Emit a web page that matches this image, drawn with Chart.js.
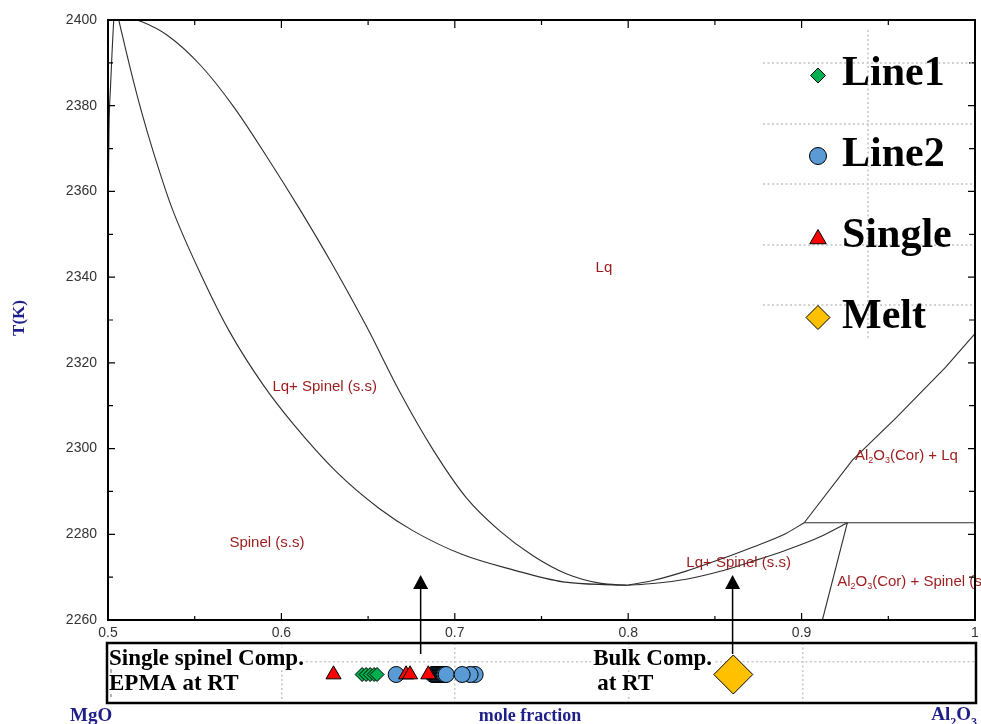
<!DOCTYPE html>
<html>
<head>
<meta charset="utf-8">
<script src="https://cdn.jsdelivr.net/npm/chart.js@4.4.0/dist/chart.umd.min.js"></script>
<style>
html, body { margin: 0; padding: 0; background: #fff; }
#wrap { position: relative; width: 981px; height: 724px; overflow: hidden; }
#wrap canvas { position: absolute; left: 0; top: 0; }
</style>
</head>
<body>
<div id="wrap">
  <canvas id="strip" width="981" height="724"></canvas>
  <canvas id="phase" width="981" height="724"></canvas>
</div>
<script>
// axis ticks
const xTicks = [0.5, 0.6, 0.7, 0.8, 0.9, 1];
const yTicks = [2260, 2280, 2300, 2320, 2340, 2360, 2380, 2400];
const stripGridX = [0.6, 0.7, 0.8, 0.9];

// phase boundaries  [mole fraction Al2O3, T(K)]
const solidusMgO = [[0.5002, 2360], [0.5006, 2375], [0.5014, 2384], [0.5024, 2393], [0.5033, 2400]];
const solidusLeft = [[0.5062, 2400], [0.5129, 2388.6], [0.5196, 2378.2], [0.5263, 2369.0], [0.5369, 2356.1],
  [0.5551, 2339.3], [0.5705, 2327.0], [0.5896, 2314.8], [0.6069, 2305.7], [0.6319, 2294.5], [0.6568, 2285.9],
  [0.6760, 2280.8], [0.7048, 2275.2], [0.7336, 2271.7], [0.7624, 2268.9], [0.7911, 2268.2], [0.7996, 2268.1]];
const liquidusLeft = [[0.5100, 2400.7], [0.5196, 2399.6], [0.5340, 2396.5], [0.5532, 2389.5], [0.5724, 2379.8],
  [0.5916, 2368.1], [0.6108, 2355.7], [0.6299, 2342.6], [0.6492, 2328.4], [0.6683, 2313.2], [0.6875, 2299.7],
  [0.7067, 2288.5], [0.7259, 2280.8], [0.7451, 2275.0], [0.7643, 2270.8], [0.7835, 2268.6], [0.7996, 2268.1]];
const liquidusRight = [[0.7996, 2268.1], [0.8142, 2269.2], [0.8334, 2271.4], [0.8526, 2274.1], [0.8717, 2277.0],
  [0.8910, 2280.2], [0.9015, 2282.7]];
const solidusRight = [[0.7996, 2268.1], [0.8142, 2268.5], [0.8334, 2269.5], [0.8526, 2271.3], [0.8717, 2273.7],
  [0.8910, 2276.3], [0.9101, 2279.3], [0.9264, 2282.7]];
const solvus = [[0.9264, 2282.7], [0.9120, 2260]];
const corundumLiquidus = [[0.9015, 2282.7], [0.9293, 2297.3], [0.9543, 2307.1], [0.9831, 2319.0], [1.0, 2326.8]];
const eutectic = [[0.9015, 2282.7], [1.0, 2282.7]];

// compositions (strip below the diagram)
const line1X = [0.6464, 0.6487, 0.6510, 0.6533, 0.6550];
const line2X = [0.6660, 0.6873, 0.6877, 0.6880, 0.6884, 0.6887, 0.6891, 0.6894, 0.6898, 0.6901, 0.6905,
  0.6908, 0.6912, 0.6915, 0.6919, 0.6922, 0.6926, 0.6929, 0.6933, 0.6936, 0.6940, 0.6948,
  0.7115, 0.7086, 0.7040];
const singleX = [0.6299, 0.6717, 0.6740, 0.6845];
const meltX = [0.8602];
const stripLevel = 2.85;
const stripGridY = [4.1];

// arrows from the strip up to the diagram
const arrowX = [0.6803, 0.8602];
const arrowTipT = 2270.5;

const regionLabels = [
  { text: 'Lq', x: 0.786, t: 2342.1, align: 'center' },
  { text: 'Lq+ Spinel (s.s)', x: 0.5948, t: 2314.4, align: 'left' },
  { text: 'Spinel (s.s)', x: 0.5700, t: 2278.0, align: 'left' },
  { text: 'Lq+ Spinel (s.s)', x: 0.8335, t: 2273.3, align: 'left' },
  { text: 'Al_2O_3(Cor) + Lq', x: 0.9308, t: 2298.3, align: 'left' },
  { text: 'Al_2O_3(Cor) + Spinel (s.s)', x: 0.9205, t: 2268.9, align: 'left' }
];

const legendOrder = ['Line1', 'Line2', 'Single', 'Melt'];
const markerStyle = {
  Line1: { pointStyle: 'rectRot', color: '#00b050', radius: 7, legendRadius: 7.5 },
  Line2: { pointStyle: 'circle', color: '#5b9bd5', radius: 8, legendRadius: 8.5 },
  Single: { pointStyle: 'triangle', color: '#ff0000', radius: 8.7, legendRadius: 9.5 },
  Melt: { pointStyle: 'rectRot', color: '#ffc000', radius: 19.5, legendRadius: 12 }
};
const seriesX = { Line1: line1X, Line2: line2X, Single: singleX, Melt: meltX };

const SANS = '"Liberation Sans", Arial, sans-serif';
const SERIF = '"Liberation Serif", "Times New Roman", serif';
const NAVY = '#1f1f8a';

function drawRich(ctx, str, x, y, size, family, weight, align) {
  const segs = str.split(/(_\d)/).filter(Boolean).map(p =>
    p[0] === '_' ? { t: p.slice(1), sub: true } : { t: p, sub: false });
  const fontFor = s => weight + ' ' + (s.sub ? Math.round(size * 0.62) : size) + 'px ' + family;
  let w = 0;
  segs.forEach(s => { ctx.font = fontFor(s); s.w = ctx.measureText(s.t).width; w += s.w; });
  let cx = align === 'center' ? x - w / 2 : (align === 'right' ? x - w : x);
  ctx.textAlign = 'left';
  segs.forEach(s => {
    ctx.font = fontFor(s);
    ctx.fillText(s.t, cx, s.sub ? y + size * 0.3 : y);
    cx += s.w;
  });
}

function marker(ctx, style, radius, px, py) {
  ctx.fillStyle = style.color;
  ctx.strokeStyle = '#000';
  ctx.lineWidth = 1;
  if (Chart.helpers && Chart.helpers.drawPoint) {
    Chart.helpers.drawPoint(ctx, { pointStyle: style.pointStyle, radius: radius, rotation: 0, borderWidth: 1 }, px, py);
    return;
  }
  ctx.beginPath();
  if (style.pointStyle === 'circle') ctx.arc(px, py, radius, 0, Math.PI * 2);
  else if (style.pointStyle === 'triangle') {
    ctx.moveTo(px, py - radius);
    ctx.lineTo(px + radius * 0.866, py + radius / 2);
    ctx.lineTo(px - radius * 0.866, py + radius / 2);
  } else {
    ctx.moveTo(px - radius, py); ctx.lineTo(px, py - radius);
    ctx.lineTo(px + radius, py); ctx.lineTo(px, py + radius);
  }
  ctx.closePath(); ctx.fill(); ctx.stroke();
}

const phaseDecor = {
  id: 'phaseDecor',
  afterDatasetsDraw(chart) {
    const { ctx, chartArea: a, scales: { x, y } } = chart;
    ctx.save();

    ctx.fillStyle = '#9a1c1c';
    ctx.textBaseline = 'middle';
    regionLabels.forEach(l => drawRich(ctx, l.text, x.getPixelForValue(l.x), y.getPixelForValue(l.t), 15, SANS, 'normal', l.align));

    // frame + inward ticks
    ctx.strokeStyle = '#000';
    ctx.lineWidth = 2;
    ctx.strokeRect(a.left, a.top, a.right - a.left, a.bottom - a.top);
    ctx.lineWidth = 1.2;
    ctx.beginPath();
    const tick = (px, py, dx, dy) => { ctx.moveTo(px, py); ctx.lineTo(px + dx, py + dy); };
    xTicks.forEach((v, i) => {
      const px = x.getPixelForValue(v);
      tick(px, a.bottom, 0, -7); tick(px, a.top, 0, 8);
      if (i < xTicks.length - 1) {
        const pm = x.getPixelForValue((v + xTicks[i + 1]) / 2);
        tick(pm, a.bottom, 0, -4); tick(pm, a.top, 0, 5);
      }
    });
    yTicks.forEach((v, i) => {
      const py = y.getPixelForValue(v);
      tick(a.left, py, 7, 0); tick(a.right, py, -7, 0);
      if (i < yTicks.length - 1) {
        const pm = y.getPixelForValue((v + yTicks[i + 1]) / 2);
        tick(a.left, pm, 5, 0); tick(a.right, pm, -6, 0);
      }
    });
    ctx.stroke();

    // x tick labels (drawn here so they don't widen the layout)
    ctx.fillStyle = '#333';
    ctx.font = '14px ' + SANS;
    ctx.textAlign = 'center';
    ctx.textBaseline = 'middle';
    xTicks.forEach(v => ctx.fillText(String(v), x.getPixelForValue(v), a.bottom + 13));

    // arrows
    ctx.fillStyle = '#000';
    ctx.lineWidth = 1.5;
    arrowX.forEach(v => {
      const px = x.getPixelForValue(v), tip = y.getPixelForValue(arrowTipT);
      ctx.beginPath(); ctx.moveTo(px, tip + 10); ctx.lineTo(px, a.bottom + 34); ctx.stroke();
      ctx.beginPath(); ctx.moveTo(px, tip); ctx.lineTo(px - 7.5, tip + 14); ctx.lineTo(px + 7.5, tip + 14);
      ctx.closePath(); ctx.fill();
    });

    // legend (pasted panel with its own dotted grid)
    ctx.strokeStyle = '#c4c4c4';
    ctx.lineWidth = 1.5;
    ctx.setLineDash([2, 2.5]);
    ctx.beginPath();
    [63, 124, 184, 245, 305].forEach(gy => { ctx.moveTo(763, gy); ctx.lineTo(973, gy); });
    ctx.moveTo(868, 30); ctx.lineTo(868, 340);
    ctx.stroke();
    ctx.setLineDash([]);
    const markerY = [75.5, 156, 239, 317.5];
    const baseY = [85, 166, 247, 328];
    legendOrder.forEach((name, i) => {
      const s = markerStyle[name];
      marker(ctx, s, s.legendRadius, 818, markerY[i]);
      ctx.fillStyle = '#000';
      ctx.textBaseline = 'alphabetic';
      ctx.textAlign = 'left';
      ctx.font = 'bold 42px ' + SERIF;
      ctx.fillText(name, 842, baseY[i]);
    });

    // axis titles
    ctx.fillStyle = NAVY;
    ctx.textBaseline = 'alphabetic';
    ctx.save();
    ctx.translate(24, 318);
    ctx.rotate(-Math.PI / 2);
    ctx.textAlign = 'center';
    ctx.font = 'bold 17px ' + SERIF;
    ctx.fillText('T(K)', 0, 0);
    ctx.restore();
    drawRich(ctx, 'MgO', 70, 721, 19, SERIF, 'bold', 'left');
    drawRich(ctx, 'mole fraction', 530, 721, 18, SERIF, 'bold', 'center');
    drawRich(ctx, 'Al_2O_3', 977, 720, 19, SERIF, 'bold', 'right');
    ctx.restore();
  }
};

new Chart(document.getElementById('phase'), {
  type: 'scatter',
  data: {
    datasets: [
      { pts: solidusMgO, smooth: true }, { pts: solidusLeft, smooth: true }, { pts: liquidusLeft, smooth: true },
      { pts: liquidusRight, smooth: true }, { pts: solidusRight, smooth: true }, { pts: solvus, smooth: false },
      { pts: corundumLiquidus, smooth: false }, { pts: eutectic, smooth: false }
    ].map(b => ({
      data: b.pts.map(p => ({ x: p[0], y: p[1] })),
      showLine: true,
      borderColor: '#2e2e2e',
      borderWidth: 1.1,
      pointRadius: 0,
      fill: false,
      tension: 0,
      cubicInterpolationMode: b.smooth ? 'monotone' : 'default'
    }))
  },
  options: {
    responsive: false,
    animation: false,
    layout: { autoPadding: false, padding: { left: 0, top: 20, right: 6, bottom: 80 } },
    plugins: { legend: { display: false }, tooltip: { enabled: false } },
    scales: {
      x: {
        type: 'linear', min: 0.5, max: 1,
        afterBuildTicks: s => { s.ticks = xTicks.map(v => ({ value: v })); },
        afterFit: s => { s.height = 24; },
        grid: { display: false, drawTicks: false },
        border: { display: false },
        ticks: { display: false }
      },
      y: {
        type: 'linear', min: 2260, max: 2400,
        afterBuildTicks: s => { s.ticks = yTicks.map(v => ({ value: v })); },
        afterFit: s => { s.width = 108; },
        grid: { display: false, drawTicks: false },
        border: { display: false },
        ticks: { font: { family: SANS, size: 14 }, color: '#333', padding: 11, callback: v => String(v) }
      }
    }
  },
  plugins: [phaseDecor]
});

const stripNotes = [
  { lines: ['Single spinel Comp.', 'EPMA at RT'], x: [null, null] },
  { lines: ['Bulk Comp.', 'at RT'], x: [0.7795, 0.7818] }
];

const stripDecor = {
  id: 'stripDecor',
  beforeDatasetsDraw(chart) {
    const { ctx, chartArea: a, scales: { x } } = chart;
    ctx.save();
    ctx.strokeStyle = '#b4b4b4';
    ctx.lineWidth = 2;
    ctx.beginPath(); ctx.moveTo(a.left + 3, a.top + 10); ctx.lineTo(a.left + 3, a.bottom - 6); ctx.stroke();
    ctx.font = 'bold 23px ' + SERIF;
    ctx.textBaseline = 'alphabetic';
    ctx.textAlign = 'left';
    stripNotes.forEach(n => {
      n.lines.forEach((t, j) => {
        const lx = n.x[j] === null ? a.left + 1 : x.getPixelForValue(n.x[j]);
        const base = a.top + 22 + j * 25;
        const w = ctx.measureText(t).width;
        ctx.fillStyle = '#fff';
        ctx.fillRect(lx - 2, base - 17, w + 4, 21);
        ctx.fillStyle = '#000';
        ctx.fillText(t, lx, base);
      });
    });
    ctx.restore();
  },
  afterDatasetsDraw(chart) {
    const { ctx, chartArea: a } = chart;
    ctx.save();
    ctx.strokeStyle = '#000';
    ctx.lineWidth = 2.5;
    ctx.strokeRect(a.left - 1, a.top, a.right - a.left + 1, a.bottom - a.top);
    ctx.restore();
  }
};

new Chart(document.getElementById('strip'), {
  type: 'scatter',
  data: {
    datasets: ['Single', 'Line1', 'Line2', 'Melt'].map(name => {
      const s = markerStyle[name];
      return {
        label: name,
        data: seriesX[name].map(v => ({ x: v, y: stripLevel })),
        pointStyle: s.pointStyle,
        pointRadius: s.radius,
        pointBackgroundColor: s.color,
        pointBorderColor: '#000',
        pointBorderWidth: 1
      };
    })
  },
  options: {
    responsive: false,
    animation: false,
    layout: { autoPadding: false, padding: { left: 108, right: 5, top: 643, bottom: 21 } },
    plugins: { legend: { display: false }, tooltip: { enabled: false } },
    scales: {
      x: {
        type: 'linear', min: 0.5, max: 1,
        afterBuildTicks: s => { s.ticks = stripGridX.map(v => ({ value: v })); },
        afterFit: s => { s.height = 0; },
        ticks: { display: false },
        grid: { color: '#c8c8c8', lineWidth: 1.5, drawTicks: false },
        border: { display: false, dash: [2, 2.5] }
      },
      y: {
        type: 'linear', min: 0, max: 6,
        afterBuildTicks: s => { s.ticks = stripGridY.map(v => ({ value: v })); },
        afterFit: s => { s.width = 0; },
        ticks: { display: false },
        grid: { color: '#c8c8c8', lineWidth: 1.5, drawTicks: false },
        border: { display: false, dash: [2, 2.5] }
      }
    }
  },
  plugins: [stripDecor]
});
</script>
</body>
</html>
